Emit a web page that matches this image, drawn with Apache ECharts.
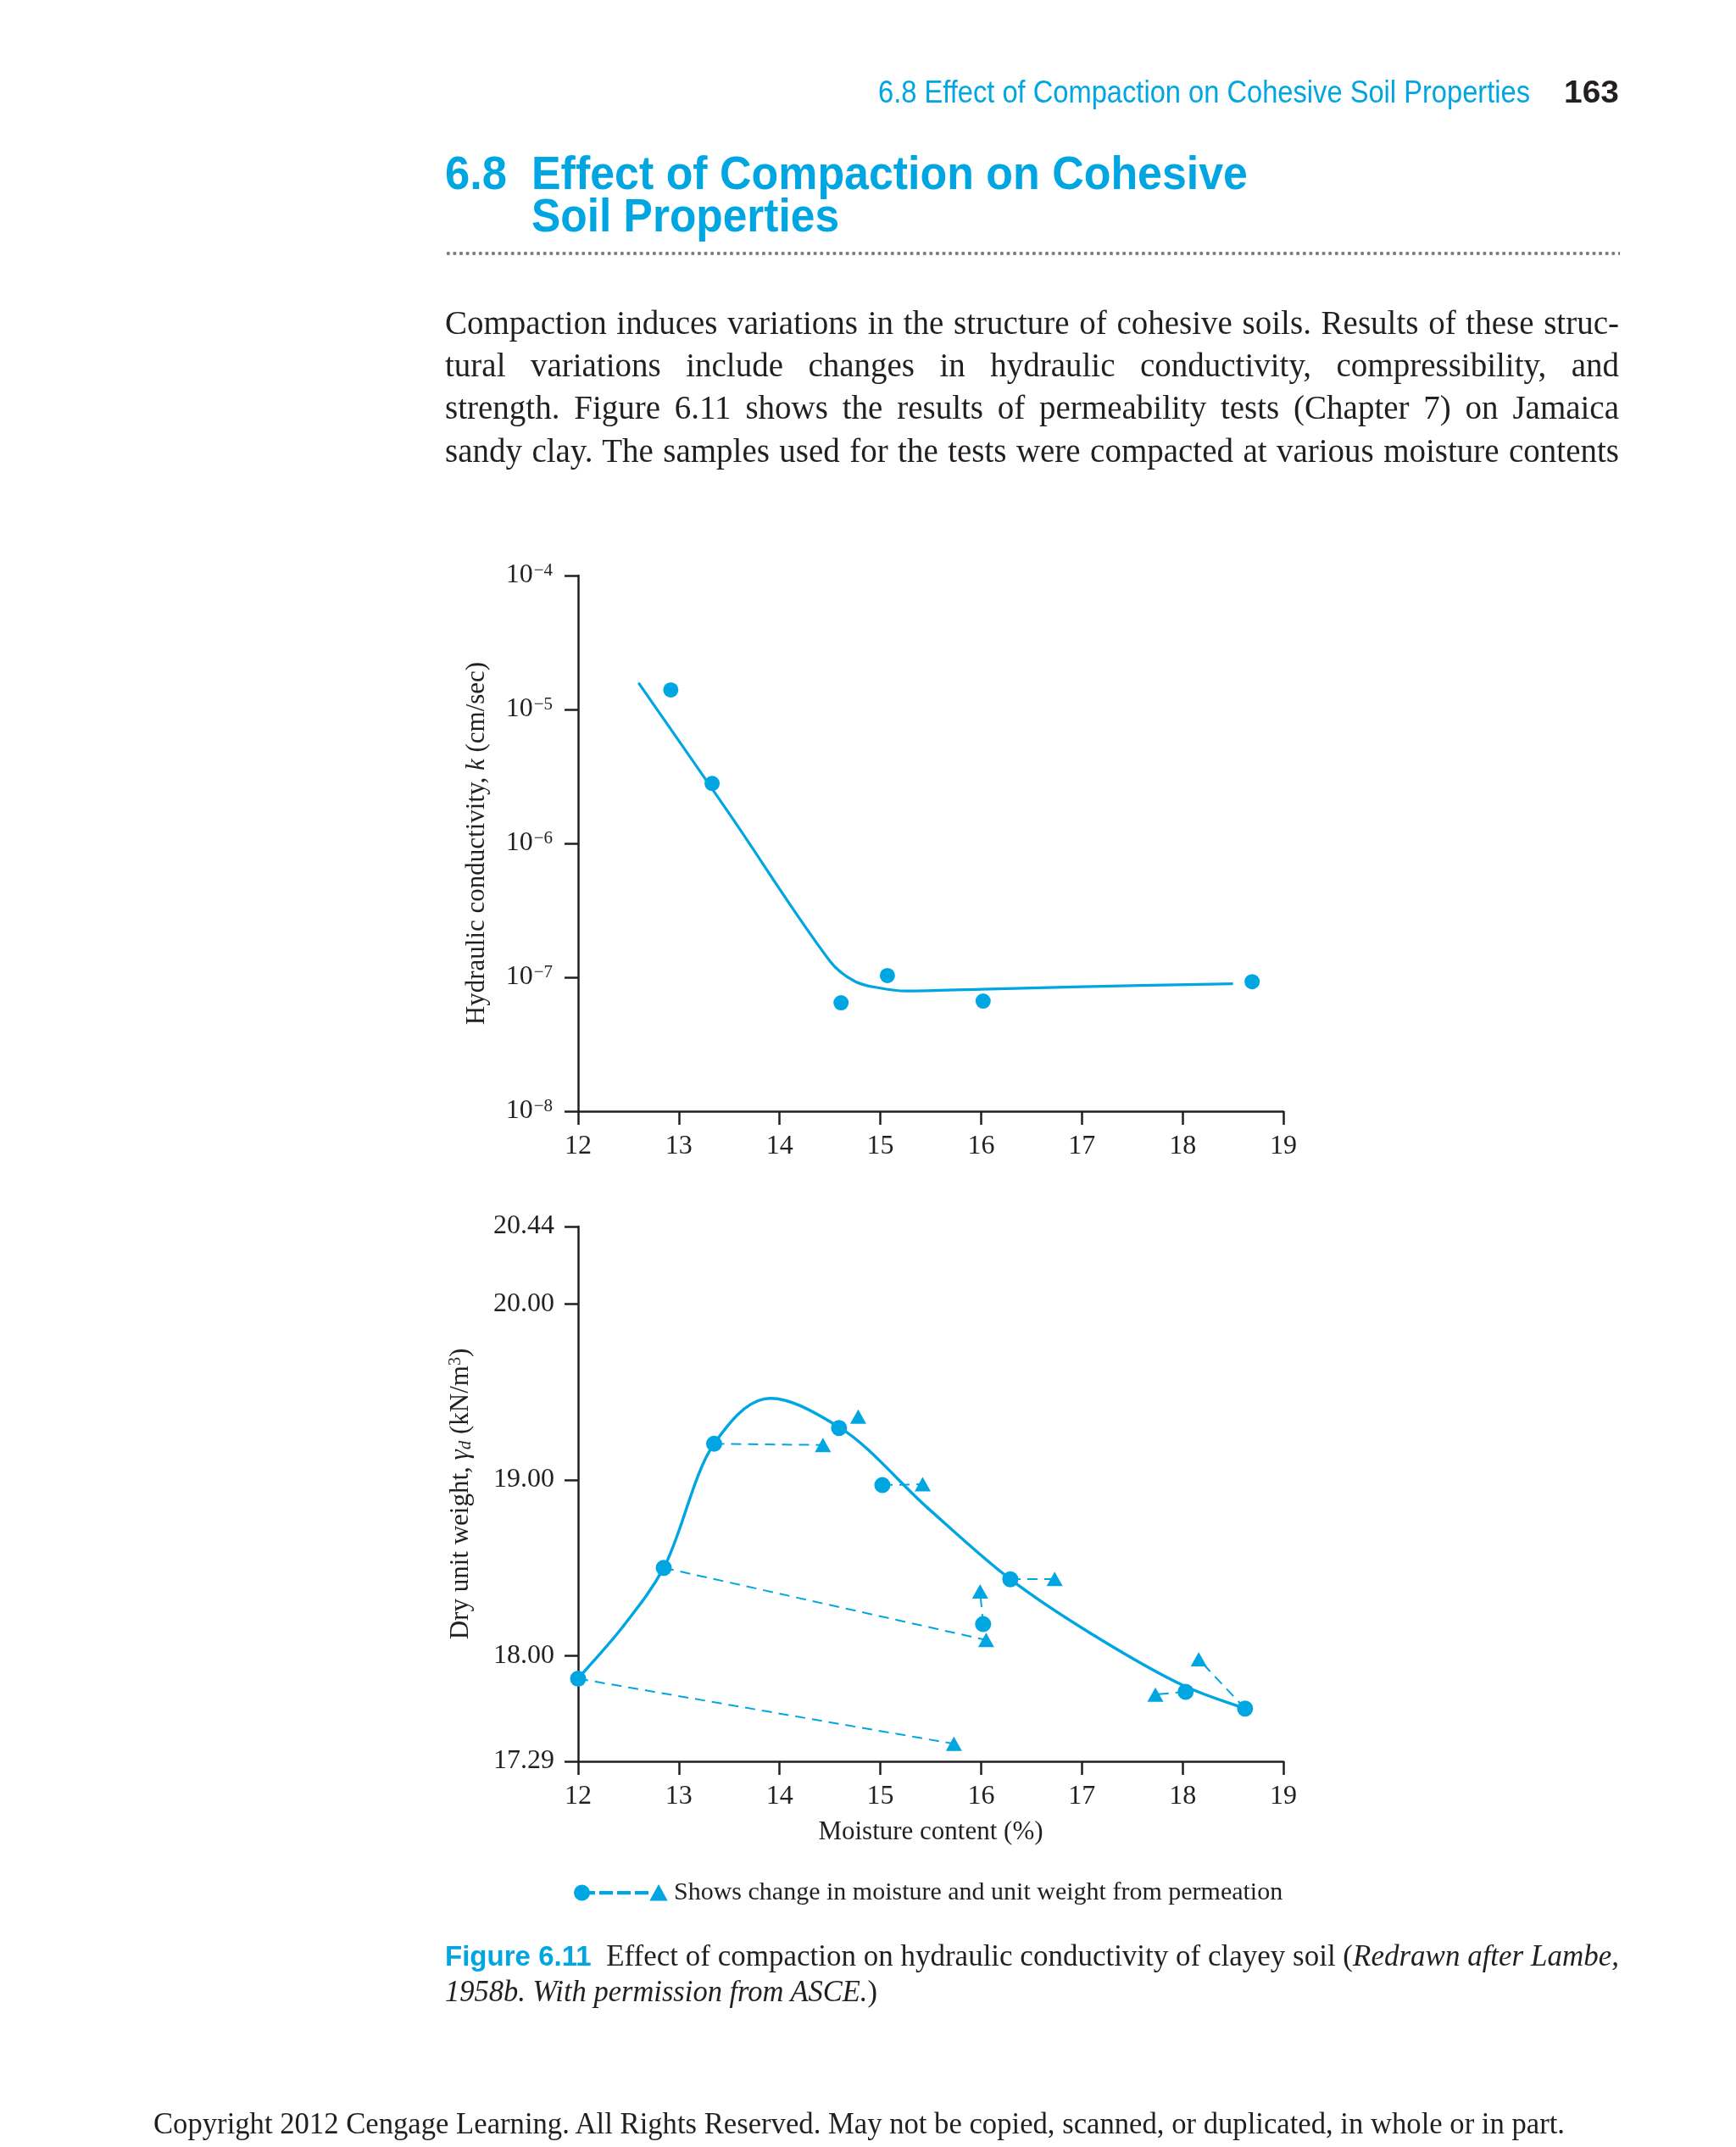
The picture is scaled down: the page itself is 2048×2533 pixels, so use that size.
<!DOCTYPE html>
<html><head><meta charset="utf-8">
<script src="https://cdn.jsdelivr.net/npm/echarts@6/dist/echarts.min.js"></script>
<style>
html,body{margin:0;padding:0;background:#fff;}
#page{position:relative;width:2048px;height:2533px;overflow:hidden;background:#fff;}
#chart{position:absolute;left:0;top:0;width:2048px;height:2533px;}
.t{position:absolute;white-space:nowrap;transform-origin:0 0;}
.sans{font-family:'Liberation Sans Narrow','Liberation Sans',Arial,sans-serif;}
.serif{font-family:'Liberation Serif','Times New Roman',serif;color:#231f20;}
.cyan{color:#00a6e2;}
.blk{color:#231f20;}
#dots{position:absolute;left:525px;top:296px;width:1386px;height:6px;background-image:radial-gradient(circle,#7d7d7d 1.9px,transparent 2.4px);background-size:7.6px 6px;}
</style></head>
<body><div id="page"><div id="chart"></div><div id="dots"></div></div>
<script>
// ---------- data ----------
const moistureTicks = [12, 13, 14, 15, 16, 17, 18, 19];
// Top: hydraulic conductivity (cm/sec) vs moisture content (%)
const kMoisture = [12.92, 13.33, 14.61, 15.07, 16.02, 18.69];
const kValues   = [1.40e-5, 2.80e-6, 6.45e-8, 1.03e-7, 6.64e-8, 9.27e-8];
const kCurveMoisture = [12.6, 13.5, 14.5, 14.75, 15.0, 15.25, 16.0, 17.0, 18.5];
const kCurveValues   = [1.58e-5, 1.67e-6, 1.32e-7, 9.3e-8, 8.3e-8, 7.9e-8, 8.15e-8, 8.5e-8, 8.95e-8];
const kTickValues = [1e-8, 1e-7, 1e-6, 1e-5, 1e-4];
const kTickExps   = ['−8', '−7', '−6', '−5', '−4'];
// Bottom: dry unit weight (kN/m3) vs moisture content (%)
const compMoisture   = [12.0, 12.85, 13.35, 14.59, 15.02, 16.02, 16.29, 18.03, 18.62];
const compUnitWeight = [17.87, 18.50, 19.205, 19.295, 18.97, 18.18, 18.435, 17.795, 17.70];
const permMoisture   = [15.73, 16.05, 14.43, 14.78, 15.42, 15.99, 16.73, 17.73, 18.16];
const permUnitWeight = [17.50, 18.09, 19.198, 19.36, 18.975, 18.366, 18.437, 17.78, 17.98];
const linkedPairs    = [0, 1, 2, 4, 5, 6, 7, 8];   // index pairs joined by dashed lines
const curveMoisture   = [12.0, 12.45, 12.85, 13.35, 13.85, 14.59, 15.47, 16.29, 17.08, 18.03, 18.62];
const curveUnitWeight = [17.87, 18.17, 18.50, 19.205, 19.46, 19.30, 18.84, 18.435, 18.13, 17.825, 17.70];
const unitWeightTicks      = [17.4, 18, 19, 20, 20.44];
const unitWeightTickLabels = ['17.29', '18.00', '19.00', '20.00', '20.44'];
const legendLabel = 'Shows change in moisture and unit weight from permeation';

// ---------- chart ----------
const CY = '#00a6e2', INK = '#231f20', SERIF = "'Liberation Serif','Times New Roman',serif";
const FS = 32;
const zip = (a, b) => a.map((v, i) => [v, b[i]]);
const chart = echarts.init(document.getElementById('chart'), null, {renderer: 'canvas'});
const axisLine = {show: true, lineStyle: {color: INK, width: 2.5}};
const axisTick = {show: true, length: 16, lineStyle: {color: INK, width: 2.5}};
const lbl = {fontFamily: SERIF, fontSize: FS, color: INK};
const xAxisBase = (gi) => ({
  type: 'value', gridIndex: gi, min: 12, max: 19, interval: 1,
  axisLine, axisTick, splitLine: {show: false},
  axisLabel: Object.assign({margin: 26, formatter: v => moistureTicks.includes(v) ? String(v) : ''}, lbl)
});
const legendIcon = 'path://M0,8.5a8.5,8.5 0 1,0 17,0a8.5,8.5 0 1,0 -17,0z M17,7.5h6v2.2h-6z M30,7.5h14v2.2h-14z M51,7.5h14v2.2h-14z M72,7.5h14v2.2h-14z M90,17L99,0.5L108,17z';

// centripetal Catmull-Rom through pixel points -> cubic bezier segments
function splineSegments(P) {
  const segs = [], a = 0.5, n = P.length;
  const dist = (p, q) => Math.max(1e-6, Math.pow(Math.hypot(q[0] - p[0], q[1] - p[1]), a));
  for (let i = 0; i < n - 1; i++) {
    const p1 = P[i], p2 = P[i + 1];
    const p0 = i > 0 ? P[i - 1] : [2 * p1[0] - p2[0], 2 * p1[1] - p2[1]];
    const p3 = i < n - 2 ? P[i + 2] : [2 * p2[0] - p1[0], 2 * p2[1] - p1[1]];
    const d1 = dist(p0, p1), d2 = dist(p1, p2), d3 = dist(p2, p3);
    const c1 = [0, 1].map(k => (d1 * d1 * p2[k] - d2 * d2 * p0[k] + (2 * d1 * d1 + 3 * d1 * d2 + d2 * d2) * p1[k]) / (3 * d1 * (d1 + d2)));
    const c2 = [0, 1].map(k => (d3 * d3 * p1[k] - d2 * d2 * p3[k] + (2 * d3 * d3 + 3 * d3 * d2 + d2 * d2) * p2[k]) / (3 * d3 * (d3 + d2)));
    segs.push({type: 'bezierCurve', shape: {x1: p1[0], y1: p1[1], cpx1: c1[0], cpy1: c1[1], cpx2: c2[0], cpy2: c2[1], x2: p2[0], y2: p2[1]},
      style: {stroke: CY, fill: null, lineWidth: 3.4, lineCap: 'round'}});
  }
  return segs;
}

chart.setOption({
  animation: false,
  grid: [
    {left: 682, top: 679, width: 832, height: 632},
    {left: 682, top: 1447, width: 832, height: 631}
  ],
  xAxis: [
    xAxisBase(0),
    Object.assign(xAxisBase(1), {
      name: 'Moisture content (%)', nameLocation: 'middle', nameGap: 68,
      nameTextStyle: {fontFamily: SERIF, fontSize: 31, color: INK}
    })
  ],
  yAxis: [
    {
      type: 'log', logBase: 10, gridIndex: 0, min: 1e-8, max: 1e-4,
      axisLine, axisTick, splitLine: {show: false}, minorTick: {show: false},
      axisLabel: {
        margin: 30,
        formatter: v => {
          const i = kTickValues.findIndex(t => Math.abs(Math.log10(t) - Math.log10(v)) < 1e-6);
          return i < 0 ? '' : '{b|10}{s|' + kTickExps[i] + '}';
        },
        rich: {
          b: {fontFamily: SERIF, fontSize: FS, color: INK},
          s: {fontFamily: SERIF, fontSize: 21, color: INK, verticalAlign: 'top', padding: [0, 0, 12, 1]}
        }
      },
      name: 'Hydraulic conductivity, {i|k} (cm/sec)', nameLocation: 'middle', nameGap: 104,
      nameTextStyle: {
        fontFamily: SERIF, fontSize: 31, color: INK,
        rich: {i: {fontFamily: SERIF, fontSize: 31, color: INK, fontStyle: 'italic'}}
      }
    },
    {
      type: 'value', gridIndex: 1, min: unitWeightTicks[0], max: unitWeightTicks[unitWeightTicks.length - 1],
      axisLine, splitLine: {show: false},
      axisTick: Object.assign({customValues: unitWeightTicks}, axisTick),
      axisLabel: Object.assign({
        margin: 28, customValues: unitWeightTicks,
        formatter: v => {
          const i = unitWeightTicks.findIndex(t => Math.abs(t - v) < 1e-6);
          return i < 0 ? '' : unitWeightTickLabels[i];
        }
      }, lbl),
      name: 'Dry unit weight, {i|γ}{sub|d} (kN/m{sup|3})', nameLocation: 'middle', nameGap: 122,
      nameTextStyle: {
        fontFamily: SERIF, fontSize: 31, color: INK,
        rich: {
          i: {fontFamily: SERIF, fontSize: 31, color: INK, fontStyle: 'italic'},
          sub: {fontFamily: SERIF, fontSize: 21, color: INK, fontStyle: 'italic', verticalAlign: 'bottom', padding: [10, 0, 0, 0]},
          sup: {fontFamily: SERIF, fontSize: 20, color: INK, verticalAlign: 'top', padding: [0, 0, 12, 0]}
        }
      }
    }
  ],
  legend: {
    left: 672, top: 2213, itemWidth: 108, itemHeight: 17, itemGap: 0,
    selectedMode: false,
    data: [{name: legendLabel, icon: legendIcon}],
    textStyle: {fontFamily: SERIF, fontSize: 30, color: INK, padding: [0, 0, 0, 4]}
  },
  series: [
    {
      type: 'line', xAxisIndex: 0, yAxisIndex: 0, data: zip(kCurveMoisture, kCurveValues),
      smooth: 0.35, showSymbol: false, symbol: 'none', lineStyle: {color: CY, width: 3.2}, z: 2
    },
    {
      type: 'scatter', xAxisIndex: 0, yAxisIndex: 0, data: zip(kMoisture, kValues),
      symbol: 'circle', symbolSize: 18, itemStyle: {color: CY, opacity: 1}, z: 3
    },
    {
      name: legendLabel, type: 'lines', coordinateSystem: 'cartesian2d', xAxisIndex: 1, yAxisIndex: 1,
      data: linkedPairs.map(i => ({coords: [[compMoisture[i], compUnitWeight[i]], [permMoisture[i], permUnitWeight[i]]]})),
      lineStyle: {color: CY, width: 2, type: [12, 8], opacity: 1, curveness: 0},
      itemStyle: {color: CY}, color: CY, symbol: 'none', z: 1, silent: true
    },
    {
      type: 'custom', xAxisIndex: 1, yAxisIndex: 1, data: zip(curveMoisture, curveUnitWeight),
      encode: {x: 0, y: 1}, z: 2, silent: true,
      renderItem: (params, api) => {
        if (params.dataIndex !== 0) return null;
        const pts = curveMoisture.map((m, i) => api.coord([m, curveUnitWeight[i]]));
        return {type: 'group', children: splineSegments(pts)};
      }
    },
    {
      type: 'scatter', xAxisIndex: 1, yAxisIndex: 1, data: zip(compMoisture, compUnitWeight),
      symbol: 'circle', symbolSize: 19, itemStyle: {color: CY, opacity: 1}, z: 3
    },
    {
      type: 'scatter', xAxisIndex: 1, yAxisIndex: 1, data: zip(permMoisture, permUnitWeight),
      symbol: 'triangle', symbolSize: [19, 17], itemStyle: {color: CY, opacity: 1}, z: 3
    }
  ]
});

// ---------- page text ----------
const page = document.getElementById('page');
function put(html, cls, size, x, baseline, targetW, opts) {
  opts = opts || {};
  const el = document.createElement('div');
  el.className = 't ' + cls;
  el.innerHTML = html;
  el.style.fontSize = size + 'px';
  el.style.lineHeight = size + 'px';
  el.style.top = (baseline - 0.84 * size) + 'px';
  page.appendChild(el);
  const w = el.getBoundingClientRect().width;
  if (opts.justify && w < targetW) {
    const n = (el.textContent.match(/ /g) || []).length || 1;
    el.style.wordSpacing = ((targetW - w) / n) + 'px';
    el.style.left = x + 'px';
  } else {
    const s = targetW / w;
    el.style.transform = 'scaleX(' + s + ')';
    el.style.left = (opts.right ? x - targetW : x) + 'px';
  }
  return el;
}
put('6.8 Effect of Compaction on Cohesive Soil Properties', 'sans cyan', 37, 1805, 121, 769, {right: true});
put('<b>163</b>', 'sans blk', 37, 1845, 121, 65);
put('<b>6.8</b>', 'sans cyan', 55, 525, 223, 73);
put('<b>Effect of Compaction on Cohesive</b>', 'sans cyan', 55, 627, 223, 845);
put('<b>Soil Properties</b>', 'sans cyan', 55, 627, 273, 363);
const para = [
  'Compaction induces variations in the structure of cohesive soils. Results of these struc-',
  'tural variations include changes in hydraulic conductivity, compressibility, and',
  'strength. Figure 6.11 shows the results of permeability tests (Chapter 7) on Jamaica',
  'sandy clay. The samples used for the tests were compacted at various moisture contents'
];
const paraBase = [394, 444, 494, 545];
para.forEach((s, i) => put(s, 'serif', 39, 525, paraBase[i], 1385, {justify: true}));
put('<span class="sans cyan" style="font-weight:bold;font-size:34px">Figure 6.11</span>&nbsp; Effect of compaction on hydraulic conductivity of clayey soil (<i>Redrawn after Lambe,</i>',
    'serif', 36, 525, 2319, 1385, {justify: true});
put('<i>1958b. With permission from ASCE.</i>)', 'serif', 36, 525, 2361, 510);
put('Copyright 2012 Cengage Learning. All Rights Reserved. May not be copied, scanned, or duplicated, in whole or in part.',
    'serif', 36, 181, 2517, 1665);
</script>
</body></html>
